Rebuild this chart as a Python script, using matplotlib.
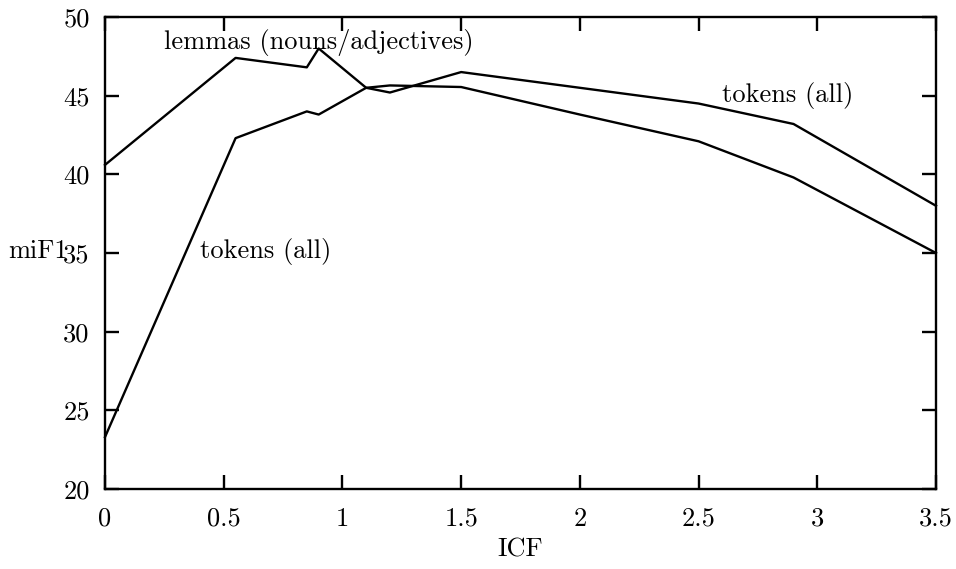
import matplotlib
matplotlib.use('Agg')
import matplotlib.pyplot as plt

# ICF weight vs micro-averaged F1
icf = [0, 0.55, 0.85, 0.9, 1.1, 1.2, 1.5, 2.0, 2.5, 2.9, 3.5]
lemmas_f1 = [40.6, 47.4, 46.8, 48.0, 45.5, 45.2, 46.5, 45.5, 44.5, 43.2, 38.0]
tokens_f1 = [23.3, 42.3, 44.0, 43.8, 45.5, 45.65, 45.55, 43.8, 42.1, 39.8, 35.0]

xticks = [0, 0.5, 1, 1.5, 2, 2.5, 3, 3.5]
xticklabels = ['0', '0.5', '1', '1.5', '2', '2.5', '3', '3.5']
yticks = [20, 25, 30, 35, 40, 45, 50]

plt.rcParams['font.family'] = ['cmr10', 'DejaVu Serif']
plt.rcParams['axes.formatter.use_mathtext'] = True
fs = 19

fig = plt.figure(figsize=(9.56, 5.69), dpi=100)
ax = fig.add_axes([105/956, 1 - 489/569, (936 - 105)/956, (489 - 17)/569])

ax.plot(icf, lemmas_f1, color='black', lw=1.7, clip_on=False)
ax.plot(icf, tokens_f1, color='black', lw=1.7, clip_on=False)

ax.set_xlim(0, 3.5)
ax.set_ylim(20, 50)
ax.set_xticks(xticks)
ax.set_xticklabels(xticklabels)
ax.set_yticks(yticks)
ax.set_yticklabels([str(v) for v in yticks])

for s in ax.spines.values():
    s.set_linewidth(1.7)
ax.tick_params(direction='in', length=10, width=1.7, top=True, right=True,
               labelsize=fs)
ax.tick_params(axis='x', pad=13)
ax.tick_params(axis='y', pad=11)

ax.text(0.25, 48.4, 'lemmas (nouns/adjectives)', va='center', ha='left', fontsize=fs)
ax.text(0.4, 35.1, 'tokens (all)', va='center', ha='left', fontsize=fs)
ax.text(2.6, 45.0, 'tokens (all)', va='center', ha='left', fontsize=fs)

fig.text(8/956, 1 - 251/569, 'miF1', va='center', ha='left', fontsize=fs)
fig.text(520/956, 1 - 550/569, 'ICF', va='center', ha='center', fontsize=fs)

fig.savefig('out.png', dpi=100)
